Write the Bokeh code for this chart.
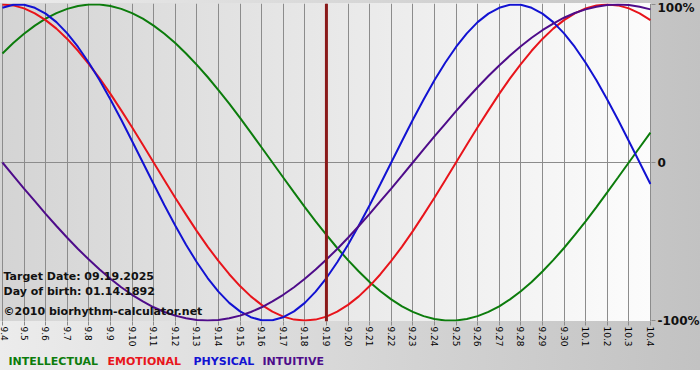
import math
from bokeh.plotting import figure
from bokeh.layouts import column
from bokeh.models import FixedTicker, Span, Label, Range1d
from bokeh.embed import file_html
from bokeh.resources import INLINE

# ---- data (values every half day, from 9.4 to 10.4) ----
dates = ["9.4", "9.5", "9.6", "9.7", "9.8", "9.9", "9.10", "9.11", "9.12", "9.13",
         "9.14", "9.15", "9.16", "9.17", "9.18", "9.19", "9.20", "9.21", "9.22", "9.23",
         "9.24", "9.25", "9.26", "9.27", "9.28", "9.29", "9.30", "10.1", "10.2", "10.3", "10.4"]

intellectual = [0.690, 0.756, 0.815, 0.866, 0.910, 0.945, 0.972, 0.990, 0.999, 0.999,
                0.990, 0.972, 0.945, 0.910, 0.866, 0.815, 0.756, 0.690, 0.618, 0.541,
                0.458, 0.372, 0.282, 0.189, 0.095, 0.0, -0.095, -0.189, -0.282, -0.372,
                -0.458, -0.541, -0.618, -0.690, -0.756, -0.815, -0.866, -0.910, -0.945, -0.972,
                -0.990, -0.999, -0.999, -0.990, -0.972, -0.945, -0.910, -0.866, -0.815, -0.756,
                -0.690, -0.618, -0.541, -0.458, -0.372, -0.282, -0.189, -0.095, 0.0, 0.095,
                0.189]

emotional = [1.0, 0.994, 0.975, 0.944, 0.901, 0.847, 0.782, 0.707, 0.623, 0.532,
             0.434, 0.330, 0.223, 0.112, 0.0, -0.112, -0.223, -0.330, -0.434, -0.532,
             -0.623, -0.707, -0.782, -0.847, -0.901, -0.944, -0.975, -0.994, -1.0, -0.994,
             -0.975, -0.944, -0.901, -0.847, -0.782, -0.707, -0.623, -0.532, -0.434, -0.330,
             -0.223, -0.112, 0.0, 0.112, 0.223, 0.330, 0.434, 0.532, 0.623, 0.707,
             0.782, 0.847, 0.901, 0.944, 0.975, 0.994, 1.0, 0.994, 0.975, 0.944,
             0.901]

physical = [0.979, 0.998, 0.998, 0.979, 0.942, 0.888, 0.817, 0.731, 0.631, 0.520,
            0.398, 0.270, 0.136, 0.0, -0.136, -0.270, -0.398, -0.520, -0.631, -0.731,
            -0.817, -0.888, -0.942, -0.979, -0.998, -0.998, -0.979, -0.942, -0.888, -0.817,
            -0.731, -0.631, -0.520, -0.398, -0.270, -0.136, 0.0, 0.136, 0.270, 0.398,
            0.520, 0.631, 0.731, 0.817, 0.888, 0.942, 0.979, 0.998, 0.998, 0.979,
            0.942, 0.888, 0.817, 0.731, 0.631, 0.520, 0.398, 0.270, 0.136, 0.0,
            -0.136]

intuitive = [0.0, -0.083, -0.165, -0.245, -0.325, -0.402, -0.476, -0.547, -0.614, -0.677,
             -0.736, -0.789, -0.837, -0.879, -0.916, -0.946, -0.969, -0.986, -0.997, -1.0,
             -0.997, -0.986, -0.969, -0.946, -0.916, -0.879, -0.837, -0.789, -0.736, -0.677,
             -0.614, -0.547, -0.476, -0.402, -0.325, -0.245, -0.165, -0.083, 0.0, 0.083,
             0.165, 0.245, 0.325, 0.402, 0.476, 0.547, 0.614, 0.677, 0.736, 0.789,
             0.837, 0.879, 0.916, 0.946, 0.969, 0.986, 0.997, 1.0, 0.997, 0.986,
             0.969]

target_date = "9.19"
y_ticks = [-1, 0, 1]
y_tick_labels = ["-100%", "0", "100%"]
series_names = ["INTELLECTUAL", "EMOTIONAL", "PHYSICAL", "INTUITIVE"]
info_lines = ["Target Date: 09.19.2025", "Day of birth: 01.14.1892", "\u00a92010 biorhythm-calculator.net"]

# ---- styling ----
colors = {"INTELLECTUAL": "#0c7c0c", "EMOTIONAL": "#e8141b", "PHYSICAL": "#1212d2", "INTUITIVE": "#4e0c8a"}
FONT = "DejaVu Sans"
FW, FH, TOP, RIGHT, BOTTOM = 651, 318, 3, 49, 30
LEG_H = 19
TOTAL_W = FW + RIGHT
OUTER_BG = "linear-gradient(to right, #ececec, #c2c2c2)"

idx = list(range(len(dates)))
t = [k * 0.5 for k in range(len(physical))]   # half-day sample positions

p = figure(frame_width=FW, frame_height=FH,
           min_border_left=0, min_border_top=TOP, min_border_bottom=BOTTOM, min_border_right=RIGHT,
           x_range=Range1d(-0.09, 30.05), y_range=Range1d(-1.006, 1.006),
           y_axis_location="right", output_backend="svg", toolbar_location=None, tools="")
p.background_fill_alpha = 0
p.border_fill_alpha = 0
p.outline_line_color = None
p.styles = {"background": (f"linear-gradient(to right, #d4d4d4, #fcfcfc) 0px {TOP}px / {FW}px {FH}px no-repeat, "
                           + OUTER_BG)}

# x axis
xa = p.xaxis[0]
xa.ticker = FixedTicker(ticks=idx)
xa.major_label_overrides = {i: d for i, d in zip(idx, dates)}
xa.major_label_orientation = -math.pi / 2
xa.major_label_text_font = FONT
xa.major_label_text_font_size = "9px"
xa.major_label_text_color = "black"
xa.major_label_standoff = 1
xa.major_tick_in = 0
xa.major_tick_out = 4
xa.major_tick_line_color = "#8c8c8c"
xa.minor_tick_line_color = None
xa.axis_line_color = None

# y axis (right)
ya = p.yaxis[0]
ya.ticker = FixedTicker(ticks=y_ticks)
ya.major_label_overrides = {tk: lb for tk, lb in zip(y_ticks, y_tick_labels)}
ya.major_label_text_font = FONT
ya.major_label_text_font_style = "bold"
ya.major_label_text_font_size = "12px"
ya.major_label_text_color = "#111111"
ya.major_label_standoff = 2
ya.major_tick_in = 0
ya.major_tick_out = 4
ya.major_tick_line_color = "#8c8c8c"
ya.minor_tick_line_color = None
ya.axis_line_color = None

# grids
p.xgrid.ticker = FixedTicker(ticks=idx)
p.xgrid.grid_line_color = "#8c8c8c"
p.xgrid.grid_line_width = 1
p.ygrid.ticker = FixedTicker(ticks=[0])
p.ygrid.grid_line_color = "#8c8c8c"

# target day line
p.add_layout(Span(location=dates.index(target_date), dimension="height",
                  line_color="#8a1a1a", line_width=3))

# curves
series = {"INTELLECTUAL": intellectual, "EMOTIONAL": emotional, "PHYSICAL": physical, "INTUITIVE": intuitive}
for name in series_names:
    p.line(t, series[name], line_color=colors[name], line_width=2)

# info text inside the plot
for txt, yy in zip(info_lines, [45, 30, 10]):
    p.add_layout(Label(x=3, y=yy, x_units="screen", y_units="screen", text=txt,
                       text_font=FONT, text_font_style="bold", text_font_size="11px",
                       text_color="#111111", text_baseline="alphabetic"))

# legend strip below the chart
leg = figure(frame_width=TOTAL_W, frame_height=LEG_H, min_border=0,
             x_range=Range1d(0, TOTAL_W), y_range=Range1d(0, LEG_H),
             x_axis_location=None, y_axis_location=None,
             output_backend="svg", toolbar_location=None, tools="")
leg.grid.visible = False
leg.background_fill_alpha = 0
leg.border_fill_alpha = 0
leg.outline_line_color = None
leg.styles = {"background": OUTER_BG}
for name, xx in zip(series_names, [8, 107, 193, 262]):
    leg.add_layout(Label(x=xx, y=9, text=name,
                         text_font=FONT, text_font_style="bold", text_font_size="11px",
                         text_color=colors[name], text_baseline="middle"))

layout = column(p, leg, spacing=0)
open("out.html", "w").write(file_html(layout, INLINE))
